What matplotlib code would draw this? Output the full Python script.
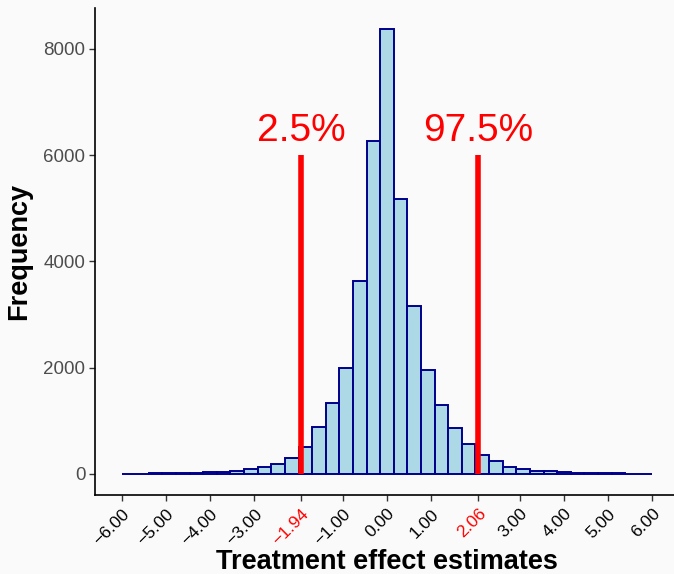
import matplotlib.pyplot as plt
import numpy as np

plt.rcParams['font.family'] = ['Liberation Sans', 'DejaVu Sans']

# histogram of treatment effect estimates (39 bins between -6 and 6)
bin_lo = -6.0
bin_hi = 6.0
counts = [2, 4, 6, 10, 15, 22, 30, 40, 50, 88, 119, 178, 295, 495, 879,
          1337, 1983, 3632, 6272, 8368, 5180, 3166, 1946, 1286, 853, 552,
          345, 245, 126, 88, 60, 48, 35, 22, 15, 10, 6, 4, 2]

# percentile markers
pct_values = [-1.94, 2.06]
pct_labels = ["2.5%", "97.5%"]
pct_height = 6000

xticks = [-6, -5, -4, -3, -1.94, -1, 0, 1, 2.06, 3, 4, 5, 6]
yticks = [0, 2000, 4000, 6000, 8000]

bg = "#FAFAFA"
fig = plt.figure(figsize=(6.74, 5.74), dpi=100, facecolor=bg)
ax = fig.add_axes([95 / 674, 79 / 574, 584 / 674, 487 / 574], facecolor=bg)

edges = np.linspace(bin_lo, bin_hi, len(counts) + 1)
ax.bar(edges[:-1], counts, width=np.diff(edges), align="edge",
       color="#ADD8E6", edgecolor="#00008B", linewidth=1.4, zorder=2)

for v, lab in zip(pct_values, pct_labels):
    ax.plot([v, v], [0, pct_height], color="red", linewidth=4, zorder=3,
            solid_capstyle="butt")
    ax.text(v, pct_height + 460, lab, color="red", fontsize=28,
            ha="center", va="center")

ax.set_xlim(-6.6, 6.6)
ax.set_ylim(-400, 8770)

ax.set_xticks(xticks)
ax.set_xticklabels([f"{t:.2f}".replace("-", "\u2212") for t in xticks],
                   rotation=45, ha="right", va="top", rotation_mode="anchor",
                   fontsize=12.5)
for t, lab in zip(xticks, ax.get_xticklabels()):
    lab.set_color("red" if t in pct_values else "black")

ax.set_yticks(yticks)
ax.set_yticklabels([str(t) for t in yticks], fontsize=13.5, color="#4D4D4D")

ax.tick_params(axis="both", length=4, width=1.0, color="#333333")
ax.tick_params(axis="x", pad=4)
ax.tick_params(axis="y", pad=3)

for s in ["top", "right"]:
    ax.spines[s].set_visible(False)
for s in ["left", "bottom"]:
    ax.spines[s].set_linewidth(1.2)
    ax.spines[s].set_color("black")

ax.set_xlabel("Treatment effect estimates", fontsize=19.5, fontweight="bold",
              labelpad=1)
ax.set_ylabel("Frequency", fontsize=19.5, fontweight="bold", labelpad=8)

fig.savefig("out.png", dpi=100, facecolor=bg)
